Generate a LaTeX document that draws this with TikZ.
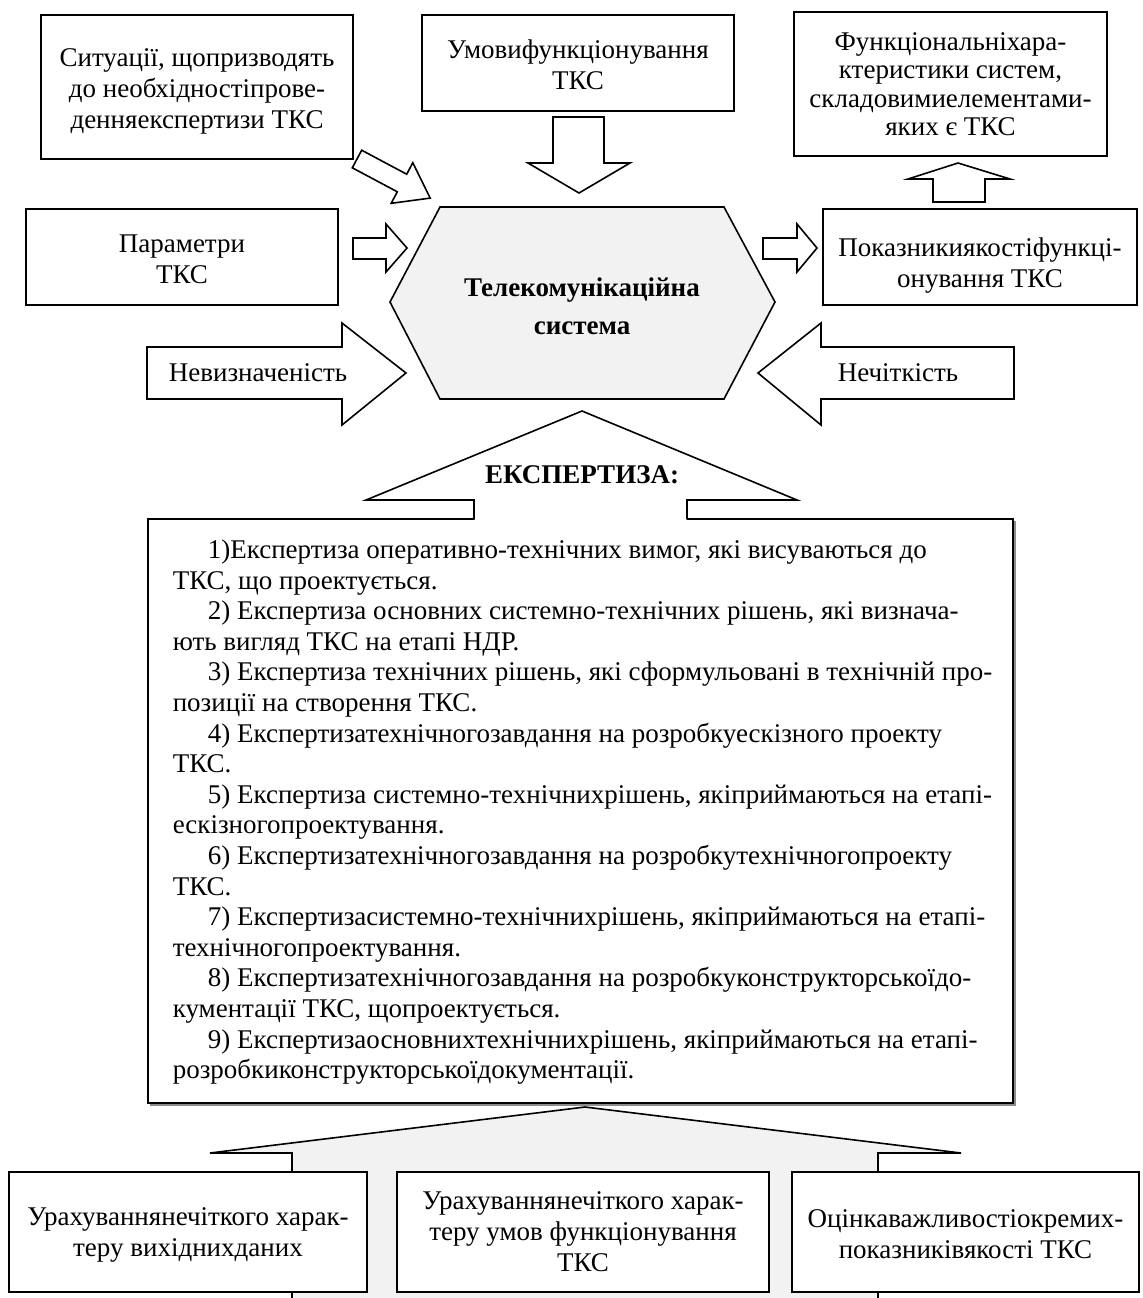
\documentclass[tikz,border=0pt]{standalone}
\usepackage{fontspec}
\setmainfont{Liberation Serif}
\definecolor{panelgray}{HTML}{F2F2F2}
\begin{document}
\begin{tikzpicture}[x=0.5pt,y=-0.5pt,line width=0.8pt,
  box/.style={draw,fill=white,inner sep=0pt},
  boxtext/.style={inner sep=0pt,align=center,
    font=\fontsize{13.5}{15.5}\selectfont},
  blockarrow/.style={draw,fill=white,line join=miter},
  arrowlabel/.style={inner sep=0pt,font=\fontsize{13.5}{15.5}\selectfont}]
\useasboundingbox (0,0) rectangle (1143,1298);

% ---- grey block arrow under the bottom boxes
\fill[panelgray] (292,1300) -- (292,1153) -- (210,1153) -- (585,1107)
  -- (961,1153) -- (878,1153) -- (878,1300) -- cycle;
\draw[line join=miter] (292,1298) -- (292,1153) -- (210,1153) -- (585,1107)
  -- (961,1153) -- (878,1153) -- (878,1298);

% ---- top row
\node[box,minimum width=156pt,minimum height=72pt] (situ) at (197,87) {};
\node[boxtext] (situ-t) at ([yshift=-2pt]situ.center)
  {Ситуації, щопризводять\\до необхідностіпрове-\\денняекспертизи ТКС};
\node[box,minimum width=156pt,minimum height=48pt] (umovy) at (578,63) {};
\node[boxtext] (umovy-t) at ([yshift=-1pt]umovy.center)
  {Умовифункціонування\\ТКС};
\node[box,minimum width=156.5pt,minimum height=72pt] (funk) at (950.5,84) {};
\node[boxtext,font=\fontsize{13.5}{14.2}\selectfont] (funk-t) at (funk.center)
  {Функціональніхара-\\ктеристики систем,\\складовимиелементами-\\яких є ТКС};
\node[box,minimum width=156pt,minimum height=48pt] (param) at (182,257) {};
\node[boxtext] (param-t) at ([yshift=-1pt]param.center) {Параметри\\ТКС};
\node[box,minimum width=157pt,minimum height=48pt] (pokaz) at (980,257) {};
\node[boxtext] (pokaz-t) at ([yshift=-4.5pt]pokaz.center)
  {Показникиякостіфункці-\\онування ТКС};

% ---- central hexagon
\draw[fill=panelgray,line join=miter] (440,207) -- (724,207) -- (775,302)
  -- (724,399) -- (440,399) -- (390,302) -- cycle;
\node[align=center,inner sep=0pt,font=\fontsize{13.5}{19}\selectfont\bfseries]
  (tks) at (582,306) {Телекомунікаційна\\система};

% ---- block arrows around the hexagon
\draw[blockarrow] (352.3,167.8) -- (397.3,191.8) -- (391.2,203.3) -- (430.2,198.1)
  -- (412.8,162.7) -- (406.7,174.2) -- (361.7,150.2) -- cycle;
\draw[blockarrow] (553,117) -- (604,117) -- (604,163) -- (630,163) -- (579,193)
  -- (528,163) -- (553,163) -- cycle;
\draw[blockarrow] (353,238) -- (386,238) -- (386,224) -- (407,248) -- (386,272)
  -- (386,259) -- (353,259) -- cycle;
\draw[blockarrow] (763,238) -- (797,238) -- (797,224) -- (817,248) -- (797,272)
  -- (797,259) -- (763,259) -- cycle;
\draw[blockarrow] (933,202) -- (933,179) -- (908,179) -- (958,163) -- (1010,179)
  -- (985,179) -- (985,202) -- cycle;
\draw[blockarrow] (147,347) -- (342,347) -- (342,323) -- (406,373) -- (342,425)
  -- (342,399) -- (147,399) -- cycle;
\node[arrowlabel] (nevyzn) at (258,373) {Невизначеність};
\draw[blockarrow] (1014,347) -- (821,347) -- (821,323) -- (758,373) -- (821,425)
  -- (821,399) -- (1014,399) -- cycle;
\node[arrowlabel] (nechit) at (898,373) {Нечіткість};

% ---- expertise list (with a thin drop shadow)
\fill[black!45] (150,521) rectangle (1015.5,1105.5);
\node[draw,fill=white,inner sep=0pt,minimum width=432.5pt,minimum height=292pt]
  (expbox) at (580.5,811) {};
\fill[white] (474.5,522) -- (474.5,500) -- (366,500) -- (582,411) -- (797,500)
  -- (686.5,500) -- (686.5,522) -- cycle;
\draw[line join=miter] (474,519) -- (474,500) -- (366,500) -- (582,411)
  -- (797,500) -- (687,500) -- (687,519);
\node[inner sep=0pt,font=\fontsize{13.5}{15.5}\selectfont\bfseries]
  (expt) at (582,475) {ЕКСПЕРТИЗА:};

\node[anchor=north west,inner sep=0pt,align=left,
  font=\fontsize{13.5}{15.3}\selectfont] (items) at (172,539) {%
\hspace*{17.5pt}1)Експертиза оперативно-технічних вимог, які висуваються до\\
ТКС, що проектується.\\
\hspace*{17.5pt}2) Експертиза основних системно-технічних рішень, які визнача-\\
ють вигляд ТКС на етапі НДР.\\
\hspace*{17.5pt}3) Експертиза технічних рішень, які сформульовані в технічній про-\\
позиції на створення ТКС.\\
\hspace*{17.5pt}4) Експертизатехнічногозавдання на розробкуескізного проекту\\
ТКС.\\
\hspace*{17.5pt}5) Експертиза системно-технічнихрішень, якіприймаються на етапі-\\
ескізногопроектування.\\
\hspace*{17.5pt}6) Експертизатехнічногозавдання на розробкутехнічногопроекту\\
ТКС.\\
\hspace*{17.5pt}7) Експертизасистемно-технічнихрішень, якіприймаються на етапі-\\
технічногопроектування.\\
\hspace*{17.5pt}8) Експертизатехнічногозавдання на розробкуконструкторськоїдо-\\
кументації ТКС, щопроектується.\\
\hspace*{17.5pt}9) Експертизаосновнихтехнічнихрішень, якіприймаються на етапі-\\
розробкиконструкторськоїдокументації.};

% ---- bottom row
\node[box,minimum width=179pt,minimum height=60pt] (urakh1) at (188,1232) {};
\node[boxtext] (urakh1-t) at ([yshift=-1.5pt]urakh1.center)
  {Урахуваннянечіткого харак-\\теру вихіднихданих};
\node[box,minimum width=186pt,minimum height=60pt] (urakh2) at (583,1232) {};
\node[boxtext] (urakh2-t) at (urakh2.center)
  {Урахуваннянечіткого харак-\\теру умов функціонування\\ТКС};
\node[box,minimum width=173.5pt,minimum height=60pt] (otsinka) at (965.5,1232) {};
\node[boxtext] (otsinka-t) at ([yshift=-1pt]otsinka.center)
  {Оцінкаважливостіокремих-\\показниківякості ТКС};
\end{tikzpicture}
\end{document}
